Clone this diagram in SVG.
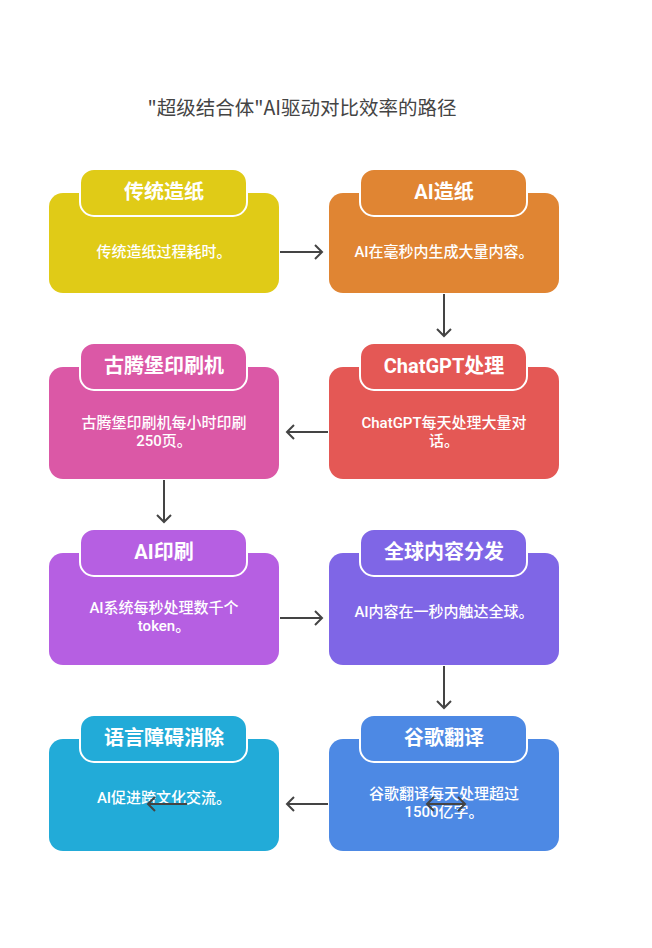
<svg xmlns="http://www.w3.org/2000/svg" width="652" height="948" viewBox="0 0 652 948">
<style>
.title{font-family:"Noto Sans CJK SC","Noto Sans",sans-serif;font-size:19.5px;fill:#444;font-weight:400}
.tab{stroke:#fff;stroke-width:2}
.th{font-family:Roboto,"Noto Sans CJK SC",sans-serif;font-size:20px;font-weight:700;fill:#fff;text-anchor:middle;dominant-baseline:central}
.tb{font-family:Roboto,"Noto Sans CJK SC",sans-serif;font-size:15px;font-weight:500;fill:#fff;text-anchor:middle;dominant-baseline:central}
.c{fill:none;stroke:#444;stroke-width:2}
</style>
<defs>
<marker id="ah" markerUnits="userSpaceOnUse" markerWidth="12" markerHeight="18" refX="8" refY="8" orient="auto-start-reverse">
<path d="M1,1 L8,8 L1,15" fill="none" stroke="#444" stroke-width="2"/>
</marker>
</defs>
<rect width="652" height="948" fill="#fff"/>
<text class="title" x="302" y="115" text-anchor="middle">"超级结合体"AI驱动对比效率的路径</text>

<g id="n1">
<rect x="49" y="193" width="230" height="100" rx="14" fill="#E0CB17"/>
<rect class="tab" x="80" y="169" width="167" height="47" rx="14" fill="#E0CB17"/>
<text class="th" x="164" y="192">传统造纸</text>
<text class="tb" x="164" y="252">传统造纸过程耗时。</text>
</g>
<g id="n2">
<rect x="329" y="193" width="230" height="100" rx="14" fill="#E08533"/>
<rect class="tab" x="360" y="169" width="167" height="47" rx="14" fill="#E08533"/>
<text class="th" x="444" y="192">AI造纸</text>
<text class="tb" x="444" y="252">AI在毫秒内生成大量内容。</text>
</g>
<g id="n3">
<rect x="329" y="367" width="230" height="112" rx="14" fill="#E45855"/>
<rect class="tab" x="360" y="343" width="167" height="47" rx="14" fill="#E45855"/>
<text class="th" x="444" y="366">ChatGPT处理</text>
<text class="tb" x="444" y="423">ChatGPT每天处理大量对</text>
<text class="tb" x="444" y="441">话。</text>
</g>
<g id="n4">
<rect x="49" y="367" width="230" height="112" rx="14" fill="#DB58A6"/>
<rect class="tab" x="80" y="343" width="167" height="47" rx="14" fill="#DB58A6"/>
<text class="th" x="164" y="366">古腾堡印刷机</text>
<text class="tb" x="164" y="423">古腾堡印刷机每小时印刷</text>
<text class="tb" x="164" y="441">250页。</text>
</g>
<g id="n5">
<rect x="49" y="553" width="230" height="112" rx="14" fill="#B65FE2"/>
<rect class="tab" x="80" y="529" width="167" height="47" rx="14" fill="#B65FE2"/>
<text class="th" x="164" y="552">AI印刷</text>
<text class="tb" x="164" y="608">AI系统每秒处理数千个</text>
<text class="tb" x="164" y="626">token。</text>
</g>
<g id="n6">
<rect x="329" y="553" width="230" height="112" rx="14" fill="#7F66E6"/>
<rect class="tab" x="360" y="529" width="167" height="47" rx="14" fill="#7F66E6"/>
<text class="th" x="444" y="552">全球内容分发</text>
<text class="tb" x="444" y="612">AI内容在一秒内触达全球。</text>
</g>
<g id="n7">
<rect x="329" y="739" width="230" height="112" rx="14" fill="#4D89E4"/>
<rect class="tab" x="360" y="715" width="167" height="47" rx="14" fill="#4D89E4"/>
<text class="th" x="444" y="738">谷歌翻译</text>
<text class="tb" x="444" y="794">谷歌翻译每天处理超过</text>
<text class="tb" x="444" y="812">1500亿字。</text>
</g>
<g id="n8">
<rect x="49" y="739" width="230" height="112" rx="14" fill="#22ABD8"/>
<rect class="tab" x="80" y="715" width="167" height="47" rx="14" fill="#22ABD8"/>
<text class="th" x="164" y="738">语言障碍消除</text>
<text class="tb" x="164" y="798">AI促进跨文化交流。</text>
</g>

<g id="connectors">
<path class="c" d="M280,252 H322" marker-end="url(#ah)"/>
<path class="c" d="M444,294 V336" marker-end="url(#ah)"/>
<path class="c" d="M328,432 H287" marker-end="url(#ah)"/>
<path class="c" d="M164,480 V522" marker-end="url(#ah)"/>
<path class="c" d="M280,618 H322" marker-end="url(#ah)"/>
<path class="c" d="M444,666 V708" marker-end="url(#ah)"/>
<path class="c" d="M328,804 H287" marker-end="url(#ah)"/>
<path class="c" d="M427,804 H465" marker-start="url(#ah)" marker-end="url(#ah)"/>
<path class="c" d="M187,804 H148" marker-end="url(#ah)"/>
</g>
</svg>
